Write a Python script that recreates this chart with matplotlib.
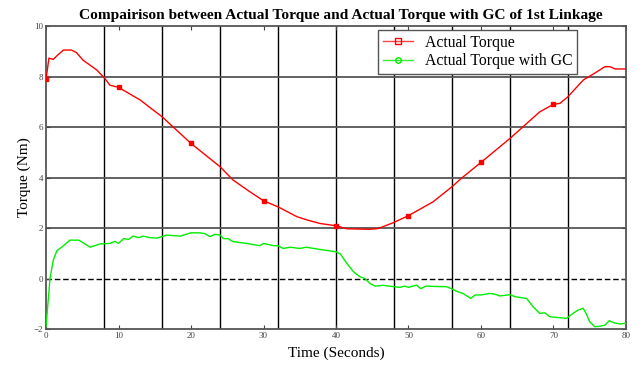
import matplotlib
matplotlib.use('Agg')
import matplotlib.pyplot as plt
from matplotlib.lines import Line2D

# Werte
t_actual = [0, 0.4, 1.0, 1.6, 2.4, 3.5, 4.2, 5.1, 7.0, 8.1, 8.8, 10, 13, 14.8, 16, 20, 24, 25.8,
            28.1, 30, 32, 34.6, 36, 37.8, 40, 41.5, 44.7, 45.8, 47.9, 50, 53.4, 56.1, 57.3, 60,
            64, 65.8, 68.1, 70, 70.9, 72, 74.1, 75.5, 77.1, 77.8, 78.5, 80]
torque_actual = [7.89, 8.73, 8.68, 8.85, 9.05, 9.05, 8.95, 8.65, 8.26, 7.93, 7.66, 7.57, 7.07, 6.67,
                 6.41, 5.35, 4.43, 3.9, 3.44, 3.08, 2.84, 2.45, 2.32, 2.18, 2.09, 1.97, 1.95, 1.98,
                 2.21, 2.49, 3.04, 3.66, 3.97, 4.6, 5.55, 6.01, 6.6, 6.9, 6.94, 7.2, 7.86, 8.1,
                 8.39, 8.39, 8.3, 8.3]

t_gc = [0, 0.55, 1.0, 1.5, 2.4, 3.3, 4.5, 5.1, 6.07, 7.45, 8.8, 9.5, 10, 10.7, 11.4, 12.0, 12.8,
        13.4, 14.3, 15.3, 16.6, 18.5, 20, 21.2, 21.9, 22.6, 23.3, 24, 24.5, 25.1, 25.8, 27.7,
        29.5, 30, 31.4, 32, 32.7, 33.7, 35.0, 35.9, 37.8, 40, 40.6, 41.5, 42.4, 43.3, 44, 44.7,
        45.4, 46.5, 47.9, 48.8, 49.5, 50, 51.1, 51.7, 52.4, 54.3, 55.2, 55.9, 56.6, 57.5, 58.6,
        59.2, 60, 61.2, 61.9, 62.6, 64, 64.7, 66.3, 67.2, 68.1, 68.8, 69.5, 70, 70.9, 71.8,
        72.7, 73.4, 74.1, 74.5, 75.0, 75.7, 76.4, 77.1, 77.7, 78.3, 79.2, 80]
torque_gc = [-1.9, 0.0, 0.73, 1.1, 1.3, 1.52, 1.52, 1.42, 1.24, 1.37, 1.39, 1.47, 1.39, 1.58, 1.55,
             1.68, 1.62, 1.68, 1.62, 1.6, 1.72, 1.68, 1.81, 1.81, 1.78, 1.66, 1.75, 1.72, 1.58,
             1.58, 1.46, 1.39, 1.3, 1.39, 1.3, 1.3, 1.19, 1.24, 1.19, 1.24, 1.15, 1.06, 0.97,
             0.6, 0.27, 0.07, 0.0, -0.2, -0.3, -0.27, -0.32, -0.35, -0.3, -0.35, -0.26, -0.4,
             -0.3, -0.32, -0.32, -0.4, -0.5, -0.59, -0.79, -0.65, -0.65, -0.59, -0.62, -0.69,
             -0.64, -0.72, -0.79, -1.12, -1.38, -1.36, -1.51, -1.53, -1.55, -1.58, -1.38, -1.25,
             -1.18, -1.38, -1.71, -1.91, -1.89, -1.85, -1.67, -1.75, -1.8, -1.77]

x_ticks = [0, 10, 20, 30, 40, 50, 60, 70, 80]
y_ticks = [-2, 0, 2, 4, 6, 8, 10]
grid_x = [8, 16, 24, 32, 40, 48, 56, 64, 72]
grid_y = [2, 4, 6, 8]

plt.rcParams['font.family'] = ['Liberation Serif', 'DejaVu Serif']

fig = plt.figure(figsize=(6.42, 3.67), dpi=100)
ax = fig.add_axes([0.0717, 0.1035, 0.9033, 0.8255])

# Gitterlinien
for gx in grid_x:
    ax.axvline(gx, color='black', linewidth=1.0, zorder=1)
for gy in grid_y:
    ax.axhline(gy, color='#555555', linewidth=1.3, zorder=1)
ax.axhline(0, color='black', linewidth=1.0, linestyle='--', dashes=(4, 2), zorder=1)

mark_a = [i for i, t in enumerate(t_actual) if t in x_ticks[:-1]]

ax.plot(t_actual, torque_actual, color='red', linewidth=1.0, marker='s', markersize=2.5,
        markevery=mark_a, zorder=3)
ax.plot(t_gc, torque_gc, color='#00ee00', linewidth=1.0, zorder=3)

ax.set_xlim(0, 80)
ax.set_ylim(-2, 10)
ax.set_xticks(x_ticks)
ax.set_yticks(y_ticks)
ax.tick_params(direction='in', top=True, right=True, length=3, labelsize=6.5,
               labelcolor='#444444', color='#444444', pad=2)
for s in ax.spines.values():
    s.set_color('#555555')
    s.set_linewidth(1.3)

ax.set_xlabel('Time (Seconds)', fontsize=11, labelpad=5)
ax.set_ylabel('Torque (Nm)', fontsize=11, labelpad=2)
ax.set_title('Compairison between Actual Torque and Actual Torque with GC of 1st Linkage',
             fontsize=11.1, fontweight='bold', pad=5, x=0.509)

# Legende mit eigenen Symbolen
handles = [
    Line2D([], [], color='#ff4444', linewidth=1.0, marker='s', markersize=4,
           markerfacecolor='none', markeredgecolor='red'),
    Line2D([], [], color='#33ee33', linewidth=1.0, marker='o', markersize=4,
           markerfacecolor='none', markeredgecolor='#00ee00'),
]
leg = ax.legend(handles, ['Actual Torque', 'Actual Torque with GC'], loc='upper left',
                bbox_to_anchor=(0.5728, 0.987), fontsize=11.3, fancybox=False,
                edgecolor='#555555', framealpha=1, handlelength=1.9, handletextpad=0.75,
                borderpad=0.3, labelspacing=0.15, borderaxespad=0)
leg.get_frame().set_linewidth(1.0)

plt.savefig('out.png', dpi=100)
